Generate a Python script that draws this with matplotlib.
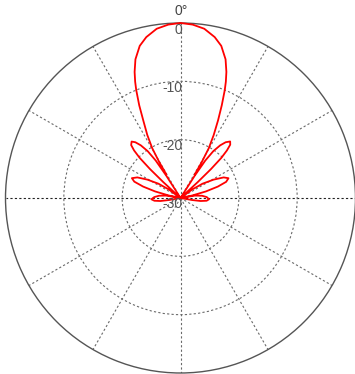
import numpy as np
import matplotlib.pyplot as plt
from matplotlib.transforms import offset_copy

# radiation pattern, angle (deg, 0 = boresight) and normalised gain (dB), floor at -30 dB
angle_deg = np.array([
    -101, -100, -98.5, -96, -92.5, -88, -84, -80.5,
    -79.5, -78, -75.5, -73, -70.5, -67.8, -64.5, -61, -57, -54, -52,
    -48, -47.3, -46.5, -45.5, -44.3, -43, -40.9, -39, -37, -35, -33.5, -32.5, -32,
    -31.5, -31.0, -30.6, -29.6, -27.8, -25.6, -24, -22.3, -21.3, -20, -18, -15, -12, -8, -4,
    0,
    4, 8, 12, 15, 18, 20, 21.3, 22.3, 24, 25.8, 27.8, 29.6, 30.6, 31.2, 31.5,
    32, 32.5, 33.5, 35, 37, 39, 41.3, 43, 44.3, 45.5, 46.5, 47.3, 48,
    52, 54, 57, 61, 64.5, 67.6, 70.5, 73, 75.5, 78, 79.5,
    80.5, 84, 88, 92.5, 96, 98.5, 100, 101,
])
gain_db = np.array([
    -30, -28, -26.5, -25.5, -25.0, -25.5, -26.3, -27.5,
    -30, -28, -25.5, -23.3, -21.6, -21.0, -21.8, -23.5, -25.5, -27.5, -30,
    -30, -26, -22.8, -20.2, -18.6, -17.6, -17.2, -17.7, -18.7, -20.2, -22.3, -25.5, -30,
    np.nan, -25.2, -22.8, -20.2, -17.8, -15.2, -12.6, -10.0, -8.6, -7.0, -5.0, -3.0, -1.8, -0.7, -0.2,
    0.0,
    -0.2, -0.7, -1.8, -3.0, -5.0, -7.0, -8.6, -10.0, -12.6, -15.2, -17.8, -20.2, -22.8, -25.3, np.nan,
    -30, -25.5, -22.3, -20.2, -18.7, -17.7, -17.1, -17.5, -18.6, -20.2, -22.8, -26, -30,
    -30, -27.5, -25.5, -23.5, -21.8, -21.1, -21.7, -23.3, -25.5, -28, -30,
    -27.5, -26.3, -25.5, -25.1, -25.5, -26.5, -28, -30,
])

ring_values = [0, -10, -20, -30]
ring_labels = ['0', '-10', '-20', '-30']
spoke_deg = np.arange(0, 360, 30)

fig = plt.figure(figsize=(3.55, 3.74), dpi=100)
ax = fig.add_axes([5.5 / 355, 1 / 374, 350 / 355, 350 / 374], projection='polar')
ax.set_theta_zero_location('N')
ax.set_theta_direction(-1)
ax.set_ylim(-30, 0)

ax.plot(np.deg2rad(angle_deg), gain_db, color='#ff0000', linewidth=1.3, clip_on=False, zorder=5)

# grid: dotted rings and spokes, solid outer circle
ax.set_xticks(np.deg2rad(spoke_deg))
ax.set_xticklabels([])
ax.set_yticks([-20, -10])
ax.set_yticklabels([])
ax.grid(True, color='#6a6a6a', linestyle=(0, (2, 2)), linewidth=0.8)
gl = ax.xaxis.get_gridlines()
gl[3].set_color('#222222')
gl[9].set_color('#222222')
ax.spines['polar'].set_color('#555555')
ax.spines['polar'].set_linewidth(1.0)

# ring labels along the 0 deg spoke
lab_tr = offset_copy(ax.transData, fig=fig, x=2, y=-6.5, units='dots')
for v, s in zip(ring_values, ring_labels):
    ax.text(0, v, s, transform=lab_tr, ha='right', va='center', fontsize=10,
            color='#555555', family='Liberation Sans', zorder=6)

fig.text(181 / 355, 1 - 11 / 374, '0°', ha='center', va='center', fontsize=10,
         color='#444444', family='Liberation Sans')

fig.savefig('out.png', dpi=100)
